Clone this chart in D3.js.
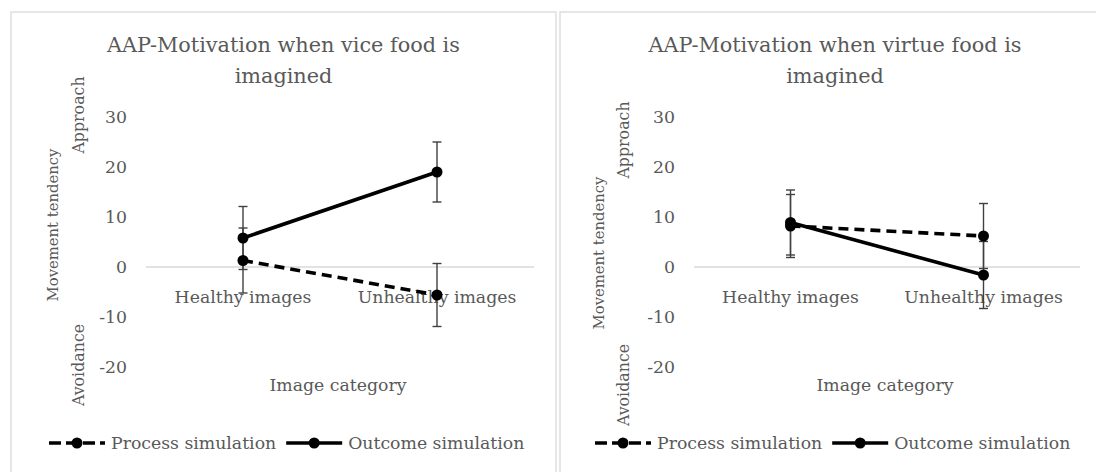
<!DOCTYPE html>
<html>
<head>
<meta charset="utf-8">
<script src="https://cdn.jsdelivr.net/npm/d3@7"></script>
<style>
  html, body { margin: 0; padding: 0; background: #ffffff; }
  svg { display: block; }
  text { font-family: "DejaVu Serif", serif; fill: #595959; }
</style>
</head>
<body>
<svg id="chart" width="1096" height="472"></svg>
<script>
// ---- data ----
const categories = ["Healthy images", "Unhealthy images"];
const yTicks = [30, 20, 10, 0, -10, -20];
const seriesNames = ["Process simulation", "Outcome simulation"];

const viceProcess = [1.3, -5.6];
const viceProcessErr = [6.5, 6.3];
const viceOutcome = [5.8, 19.0];
const viceOutcomeErr = [6.3, 6.0];

const virtueProcess = [8.2, 6.2];
const virtueProcessErr = [6.3, 6.5];
const virtueOutcome = [8.9, -1.6];
const virtueOutcomeErr = [6.5, 6.7];

const titlesLine1 = ["AAP-Motivation when vice food is", "AAP-Motivation when virtue food is"];
const titleLine2 = "imagined";
const xTitle = "Image category";
const yTitleLine1 = "Movement tendency";
const yTitleTop = "Approach";
const yTitleBottom = "Avoidance";

// ---- layout ----
const panels = [
  { x0: 11, x1: 556, plotL: 146, plotR: 534, title: titlesLine1[0],
    process: viceProcess, processErr: viceProcessErr, outcome: viceOutcome, outcomeErr: viceOutcomeErr,
    yt: { mx: 52, my: 225, ax: 78, apY: 115, avY: 365 }, tickRight: 127, legendX: 49 },
  { x0: 560, x1: 1110, plotL: 694, plotR: 1080, title: titlesLine1[1],
    process: virtueProcess, processErr: virtueProcessErr, outcome: virtueOutcome, outcomeErr: virtueOutcomeErr,
    yt: { mx: 598, my: 253, ax: 623, apY: 140, avY: 385 }, tickRight: 675, legendX: 595 }
];

const FS = "17.3px";      // labels
const FS_T = "20.8px";    // title
const FS_Y = "15.8px";    // y title (Approach / Avoidance)
const FS_Y1 = "14.8px";   // y title (Movement tendency)

const svg = d3.select("#chart");
svg.append("rect").attr("width", 1096).attr("height", 472).attr("fill", "#fff");

const y = d3.scaleLinear().domain([-20, 30]).range([367, 117]);

panels.forEach(p => {
  const g = svg.append("g");
  // panel border
  g.append("rect")
    .attr("x", p.x0).attr("y", 12)
    .attr("width", p.x1 - p.x0).attr("height", 500)
    .attr("fill", "none").attr("stroke", "#d9d9d9").attr("stroke-width", 1.3);

  const cx = (p.x0 + p.x1) / 2;
  // title
  const t = g.append("text").attr("text-anchor", "middle").style("font-size", FS_T);
  t.append("tspan").attr("x", cx).attr("y", 52).text(p.title);
  t.append("tspan").attr("x", cx).attr("y", 83).text(titleLine2);

  const x = d3.scaleBand().domain(categories).range([p.plotL, p.plotR]);
  const xc = d => x(d) + x.bandwidth() / 2;

  // y tick labels
  g.selectAll(".ytick").data(yTicks).enter().append("text")
    .attr("x", p.tickRight).attr("y", d => y(d))
    .attr("text-anchor", "end").attr("dominant-baseline", "central")
    .style("font-size", FS).text(d => d);

  // zero line (category axis)
  g.append("line")
    .attr("x1", p.plotL).attr("x2", p.plotR)
    .attr("y1", y(0)).attr("y2", y(0))
    .attr("stroke", "#d9d9d9").attr("stroke-width", 1.3);

  // x tick labels
  g.selectAll(".xtick").data(categories).enter().append("text")
    .attr("x", d => xc(d)).attr("y", 297)
    .attr("text-anchor", "middle").attr("dominant-baseline", "central")
    .style("font-size", FS).text(d => d);

  // x title
  g.append("text").attr("x", (p.plotL + p.plotR) / 2 - 2).attr("y", 385)
    .attr("text-anchor", "middle").attr("dominant-baseline", "central")
    .style("font-size", FS).text(xTitle);

  // y title
  g.append("text").attr("transform", `translate(${p.yt.mx},${p.yt.my}) rotate(-90)`)
    .attr("text-anchor", "middle").attr("dominant-baseline", "central")
    .style("font-size", FS_Y1).text(yTitleLine1);
  g.append("text").attr("transform", `translate(${p.yt.ax},${p.yt.apY}) rotate(-90)`)
    .attr("text-anchor", "middle").attr("dominant-baseline", "central")
    .style("font-size", FS_Y).text(yTitleTop);
  g.append("text").attr("transform", `translate(${p.yt.ax},${p.yt.avY}) rotate(-90)`)
    .attr("text-anchor", "middle").attr("dominant-baseline", "central")
    .style("font-size", FS_Y).text(yTitleBottom);

  const series = [
    { vals: p.process, errs: p.processErr, dash: "10,6" },
    { vals: p.outcome, errs: p.outcomeErr, dash: null }
  ];

  // error bars
  series.forEach(s => {
    categories.forEach((c, i) => {
      const v = s.vals[i], e = s.errs[i], xx = xc(c);
      g.append("line").attr("x1", xx).attr("x2", xx)
        .attr("y1", y(v + e)).attr("y2", y(v - e))
        .attr("stroke", "#404040").attr("stroke-width", 1.4);
      [v + e, v - e].forEach(w => {
        g.append("line").attr("x1", xx - 4.5).attr("x2", xx + 4.5)
          .attr("y1", y(w)).attr("y2", y(w))
          .attr("stroke", "#404040").attr("stroke-width", 1.4);
      });
    });
  });

  // lines + markers
  const line = d3.line().x((d, i) => xc(categories[i])).y(d => y(d));
  series.forEach(s => {
    g.append("path").datum(s.vals).attr("d", line)
      .attr("fill", "none").attr("stroke", "#000").attr("stroke-width", 3.6)
      .attr("stroke-dasharray", s.dash);
    g.selectAll(null).data(s.vals).enter().append("circle")
      .attr("cx", (d, i) => xc(categories[i])).attr("cy", d => y(d))
      .attr("r", 5.5).attr("fill", "#000");
  });

  // legend
  const ly = 443;
  const lg = g.append("g");
  let lx = p.legendX;
  seriesNames.forEach((name, k) => {
    const dash = k === 0 ? "12,5" : null;
    lg.append("line").attr("x1", lx).attr("x2", lx + 56).attr("y1", ly).attr("y2", ly)
      .attr("stroke", "#000").attr("stroke-width", 3.6).attr("stroke-dasharray", dash);
    lg.append("circle").attr("cx", lx + 28).attr("cy", ly).attr("r", 5.5).attr("fill", "#000");
    const tx = lg.append("text").attr("x", lx + 62).attr("y", ly)
      .attr("dominant-baseline", "central").style("font-size", FS).text(name);
    lx = lx + 62 + tx.node().getComputedTextLength() + 10;
  });
});
</script>
</body>
</html>
